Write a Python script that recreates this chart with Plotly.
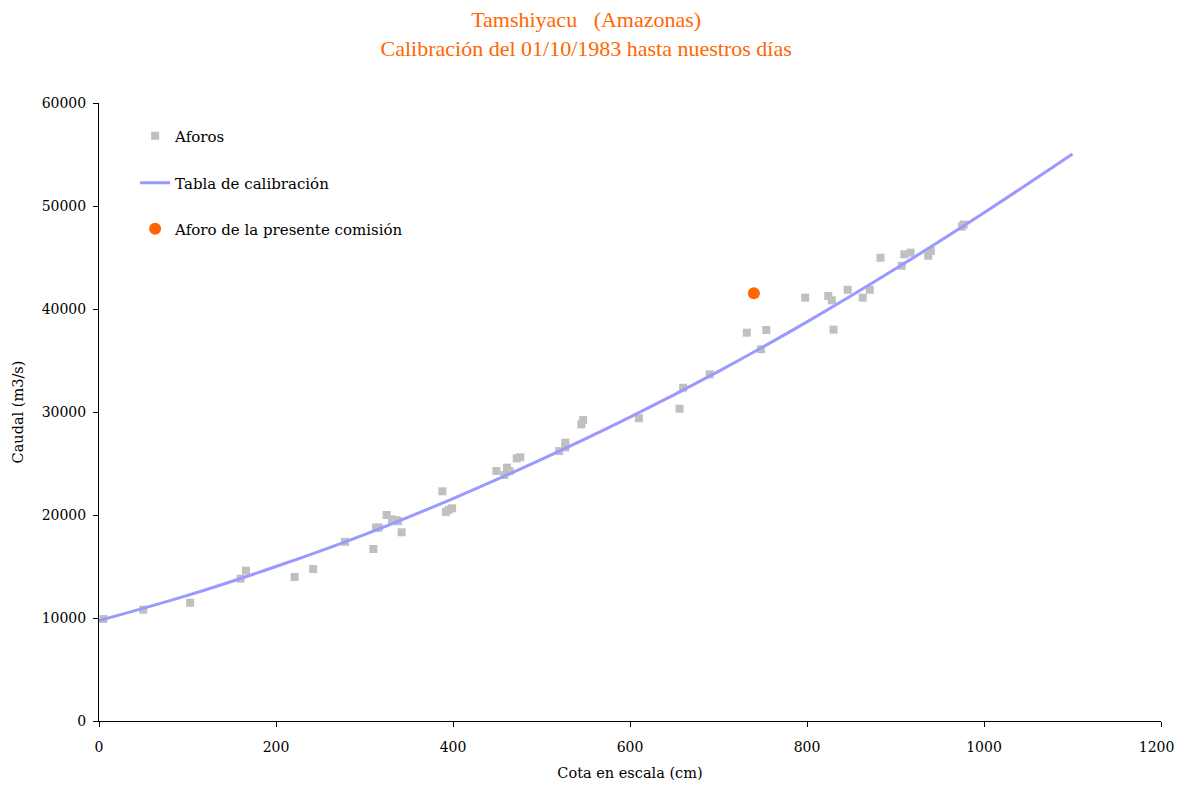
import plotly.graph_objects as go

# Aforos (gauging measurements)
aforos_h = [5, 50, 103, 160, 166, 221, 242, 278, 310, 313, 316, 325, 331, 336, 338, 342,
            388, 392, 395, 399, 449, 458, 461, 464, 472, 476, 520, 527, 527, 545, 547,
            610, 656, 660, 690, 732, 748, 754, 798, 824, 828, 830, 846, 863, 871,
            883, 907, 910, 917, 937, 940, 975, 977]
aforos_q = [9900, 10800, 11480, 13820, 14600, 13980, 14750, 17400, 16700, 18780, 18780,
            20000, 19580, 19500, 19400, 18320, 22300, 20300, 20500, 20650, 24270, 23880,
            24600, 24270, 25500, 25600, 26200, 27020, 26570, 28800, 29220,
            29390, 30320, 32360, 33650, 37700, 36090, 37960, 41100, 41260, 40840, 38000,
            41870, 41100, 41870, 44980, 44200, 45310, 45470, 45170, 45630, 48000, 48200]

# Tabla de calibración
tabla_h = [0, 100, 200, 300, 400, 500, 600, 700, 800, 900, 1000, 1100]
tabla_q = [9750, 12200, 15000, 18100, 21600, 25400, 29500, 33950, 38750, 43900, 49350, 55050]

# Aforo de la presente comisión
presente_h = [740]
presente_q = [41520]

# Tick labels
x_ticks = [0, 200, 400, 600, 800, 1000, 1200]
x_ticktext = ["0", "200", "400", "600", "800", "1000", "1200\u2007"]
y_ticks = [0, 10000, 20000, 30000, 40000, 50000, 60000]

FONT = "DejaVu Serif"
TFONT = "Liberation Serif"

fig = go.Figure()
fig.add_trace(go.Scatter(
    x=aforos_h, y=aforos_q, mode="markers", name="Aforos", showlegend=True,
    marker=dict(symbol="square", size=8, color="#C0C0C0"),
    legend="legend"))
fig.add_trace(go.Scatter(
    x=tabla_h, y=tabla_q, mode="lines", name="Tabla de calibración", showlegend=True,
    line=dict(color="#9999FF", width=3, shape="spline"),
    legend="legend2"))
fig.add_trace(go.Scatter(
    x=presente_h, y=presente_q, mode="markers", name="Aforo de la presente comisión",
    showlegend=True,
    marker=dict(symbol="circle", size=12, color="#FF6600"),
    legend="legend3"))

leg_common = dict(xanchor="left", yanchor="middle", bgcolor="rgba(0,0,0,0)",
                  font=dict(family=FONT, size=15, color="black"))
fig.update_layout(
    width=1168, height=773, showlegend=True,
    paper_bgcolor="white", plot_bgcolor="white",
    margin=dict(l=91, r=15, t=95, b=60, autoexpand=False),
    title=dict(text="Tamshiyacu   (Amazonas)<br>Calibración del 01/10/1983 hasta nuestros días",
               x=0.495, xanchor="center", y=0.975, yanchor="top",
               font=dict(family=TFONT, size=22, color="#FF6600")),
    legend=dict(x=0.034, y=0.9466, **leg_common),
    legend2=dict(x=0.034, y=0.8706, **leg_common),
    legend3=dict(x=0.034, y=0.796, **leg_common),
    xaxis=dict(range=[0, 1200], tickvals=x_ticks, ticktext=x_ticktext,
               automargin=False,
               showline=True, linecolor="black", linewidth=1, ticks="outside",
               ticklen=5, tickcolor="black", showgrid=False, zeroline=False,
               ticklabelstandoff=8, ticklabeloverflow="allow",
               tickfont=dict(family=FONT, size=14, color="black"),
               title=dict(text="Cota en escala (cm)", standoff=19,
                          font=dict(family=FONT, size=14.5, color="black"))),
    yaxis=dict(range=[0, 60000], tickvals=y_ticks,
               tickformat="d", automargin=False,
               showline=True, linecolor="black", linewidth=1, ticks="outside",
               ticklen=5, tickcolor="black", showgrid=False, zeroline=False,
               ticklabelstandoff=4,
               tickfont=dict(family=FONT, size=14, color="black"),
               title=dict(text="Caudal (m3/s)", standoff=14,
                          font=dict(family=FONT, size=14.5, color="black"))),
)

fig.write_html("out.html")
